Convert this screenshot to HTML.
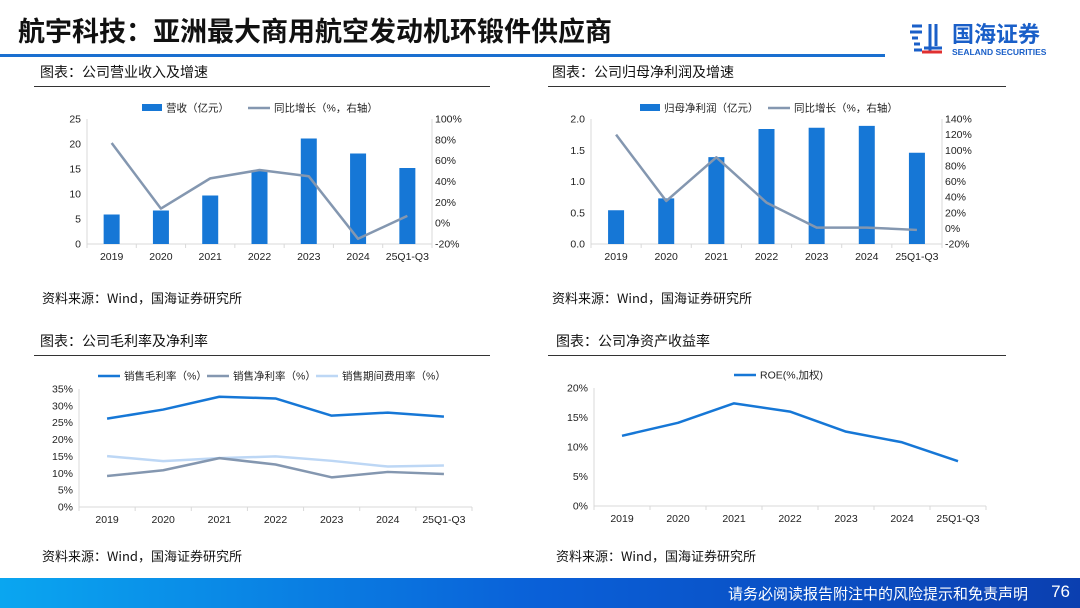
<!DOCTYPE html>
<html><head><meta charset="utf-8"><style>
body{margin:0;width:1080px;height:608px;position:relative;background:#fff;font-family:"Liberation Sans","Noto Sans CJK SC",sans-serif;overflow:hidden}
.abs{position:absolute}
.title{left:18px;top:10px;font-size:27px;font-weight:bold;color:#111;font-family:"Noto Sans CJK SC",sans-serif}
.st{font-size:14px;color:#111;font-family:"Noto Sans CJK SC",sans-serif}
.src{font-size:13px;color:#111;font-family:"Noto Sans CJK SC",sans-serif}
svg text{font-family:"Liberation Sans","Noto Sans CJK SC",sans-serif;font-size:10.5px;fill:#222}
</style></head><body>
<div class="abs title">航宇科技：亚洲最大商用航空发动机环锻件供应商</div>
<div class="abs" style="left:0;top:54px;width:885px;height:3px;background:#1a6fd0"></div>
<div class="abs" style="left:908px;top:20px;width:160px;height:40px">
<svg width="40" height="40" style="position:absolute;left:0;top:0"><path d="M4 6h10M2 12h12M4 18h6M6 24h6M6 30h8M22 4v28M28 4v22M16 28h18" stroke="#1a5fc8" stroke-width="3" fill="none"/><path d="M14 32h20" stroke="#e03030" stroke-width="3"/></svg>
<div style="position:absolute;left:44px;top:0;font-size:22px;font-weight:bold;color:#1a5fc8;font-family:'Noto Sans CJK SC',sans-serif;line-height:26px">国海证券</div>
<div style="position:absolute;left:44px;top:27px;font-size:8.5px;font-weight:bold;color:#1a5fc8;white-space:nowrap">SEALAND SECURITIES</div>
</div>

<div class="abs st" style="left:40px;top:62px">图表：公司营业收入及增速</div>
<div class="abs" style="left:34px;top:86px;width:456px;height:1px;background:#333"></div>
<div class="abs st" style="left:552px;top:62px">图表：公司归母净利润及增速</div>
<div class="abs" style="left:548px;top:86px;width:458px;height:1px;background:#333"></div>
<div class="abs st" style="left:40px;top:331px">图表：公司毛利率及净利率</div>
<div class="abs" style="left:34px;top:355px;width:456px;height:1px;background:#333"></div>
<div class="abs st" style="left:556px;top:331px">图表：公司净资产收益率</div>
<div class="abs" style="left:548px;top:355px;width:458px;height:1px;background:#333"></div>

<div class="abs src" style="left:42px;top:288px">资料来源：Wind，国海证券研究所</div>
<div class="abs src" style="left:552px;top:288px">资料来源：Wind，国海证券研究所</div>
<div class="abs src" style="left:42px;top:546px">资料来源：Wind，国海证券研究所</div>
<div class="abs src" style="left:556px;top:546px">资料来源：Wind，国海证券研究所</div>

<div class="abs" style="left:0;top:578px;width:1080px;height:30px;background:linear-gradient(90deg,#0aa6f0,#0a60d8 50%,#0b3fb0)">
<span style="position:absolute;right:52px;top:5px;color:#fff;font-size:15px;font-family:'Noto Sans CJK SC',sans-serif">请务必阅读报告附注中的风险提示和免责声明</span>
<span style="position:absolute;right:10px;top:4px;color:#fff;font-size:17px">76</span></div>

<svg id="chart" class="abs" style="left:0;top:0" width="1080" height="608"></svg>
<script>
const categories=["2019","2020","2021","2022","2023","2024","25Q1-Q3"];
const revenue=[5.9,6.7,9.7,14.8,21.1,18.1,15.2];
const revenueGrowth=[77,14,43,51,45,-15,7];
const profit=[0.54,0.73,1.39,1.84,1.86,1.89,1.46];
const profitGrowth=[120,35,91,33,1,1,-2];
const grossMargin=[26.2,28.9,32.7,32.2,27.1,28.0,26.8];
const netMargin=[9.2,10.9,14.5,12.6,8.8,10.4,9.8];
const expenseRatio=[15.1,13.6,14.5,15.0,13.7,12.0,12.3];
const roe=[11.9,14.1,17.4,16.0,12.6,10.8,7.6];
const revTicks=[0,5,10,15,20,25];
const revGrowthTicks=[-20,0,20,40,60,80,100];
const profTicks=[0,0.5,1.0,1.5,2.0];
const profGrowthTicks=[-20,0,20,40,60,80,100,120,140];
const marginTicks=[0,5,10,15,20,25,30,35];
const roeTicks=[0,5,10,15,20];

const svg=document.getElementById('chart');
const NS='http://www.w3.org/2000/svg';
function mk(tag,attrs,parent){const e=document.createElementNS(NS,tag);for(const k in attrs)e.setAttribute(k,attrs[k]);(parent||svg).appendChild(e);return e;}
function txt(x,y,s,anchor,parent){const t=mk('text',{x:x,y:y,'text-anchor':anchor||'middle'},parent);t.textContent=s;return t;}

function chart(o){
  const g=mk('g',{});
  
  
  const n=categories.length, cw=(o.x1-o.x0)/n;
  const cx=i=>o.x0+cw*(i+0.5);
  const yL=v=>o.yb-(v-o.lmin)/(o.lmax-o.lmin)*(o.yb-o.yt);
  mk('line',{x1:o.x0,y1:o.yt,x2:o.x0,y2:o.yb,stroke:'#d9d9d9'},g);
  mk('line',{x1:o.x0,y1:o.yb,x2:o.x1,y2:o.yb,stroke:'#d9d9d9'},g);
  if(o.rTicks) mk('line',{x1:o.x1,y1:o.yt,x2:o.x1,y2:o.yb,stroke:'#d9d9d9'},g);
  for(let i=0;i<=n;i++) mk('line',{x1:o.x0+cw*i,y1:o.yb,x2:o.x0+cw*i,y2:o.yb+4,stroke:'#d9d9d9'},g);
  o.lTicks.forEach(v=>{const t=txt(o.x0-6,yL(v)+3.5,o.lFmt(v),'end',g);});
  categories.forEach((c,i)=>{const t=txt(cx(i),o.yb+16,c,'middle',g);});
  let yR=null;
  if(o.rTicks){
    const rmin=o.rTicks[0],rmax=o.rTicks[o.rTicks.length-1];
    yR=v=>o.yb-(v-rmin)/(rmax-rmin)*(o.yb-o.yt);
    o.rTicks.forEach(v=>{const t=txt(o.x1+3,yR(v)+3.5,v+'%','start',g);});
  }
  if(o.bars){o.bars.forEach((v,i)=>{const r=mk('rect',{x:cx(i)-8,y:yL(v),width:16,height:o.yb-yL(v),fill:'#1677d6'},g);});}
  (o.lines||[]).forEach(L=>{
    const f=L.right?yR:yL;
    const p=mk('polyline',{points:L.data.map((v,i)=>cx(i)+','+f(v)).join(' '),fill:'none',stroke:L.color,'stroke-width':L.w||2.5,'stroke-linejoin':'round'},g);
    
    
  });
  return g;
}
function legend(items,y){
  items.forEach(it=>{
    const g=mk('g',{});
    
    
    if(it.bar) mk('rect',{x:it.x,y:y-4,width:20,height:7,fill:it.color},g);
    else mk('line',{x1:it.x,y1:y,x2:it.x+22,y2:y,stroke:it.color,'stroke-width':2.5},g);
    txt(it.x+(it.bar?24:26),y+3.5,it.label,'start',g);
  });
}
chart({name:'revenue-chart',x0:87,x1:432,yt:119,yb:244,lmin:0,lmax:25,lTicks:revTicks,lFmt:v=>v,rTicks:revGrowthTicks,bars:revenue,
  lines:[{data:revenueGrowth,right:true,color:'#8497b0',name:'revenue-growth-line'}]});
legend([{x:142,color:'#1677d6',bar:true,label:'营收（亿元）'},{x:248,color:'#8497b0',label:'同比增长（%，右轴）'}],108);
chart({name:'profit-chart',x0:591,x1:942,yt:119,yb:244,lmin:0,lmax:2,lTicks:profTicks,lFmt:v=>v.toFixed(1),rTicks:profGrowthTicks,bars:profit,
  lines:[{data:profitGrowth,right:true,color:'#8497b0',name:'profit-growth-line'}]});
legend([{x:640,color:'#1677d6',bar:true,label:'归母净利润（亿元）'},{x:768,color:'#8497b0',label:'同比增长（%，右轴）'}],108);
chart({name:'margin-chart',x0:79,x1:472,yt:389,yb:507,lmin:0,lmax:35,lTicks:marginTicks,lFmt:v=>v+'%',
  lines:[{data:expenseRatio,color:'#bdd7f5',name:'expense-ratio-line'},{data:netMargin,color:'#8497b0',name:'net-margin-line'},{data:grossMargin,color:'#1677d6',name:'gross-margin-line'}]});
legend([{x:98,color:'#1677d6',label:'销售毛利率（%）'},{x:207,color:'#8497b0',label:'销售净利率（%）'},{x:316,color:'#bdd7f5',label:'销售期间费用率（%）'}],376);
chart({name:'roe-chart',x0:594,x1:986,yt:388,yb:506,lmin:0,lmax:20,lTicks:roeTicks,lFmt:v=>v+'%',
  lines:[{data:roe,color:'#1677d6',name:'roe-line'}]});
legend([{x:734,color:'#1677d6',label:'ROE(%,加权)'}],375);
</script>
</body></html>
